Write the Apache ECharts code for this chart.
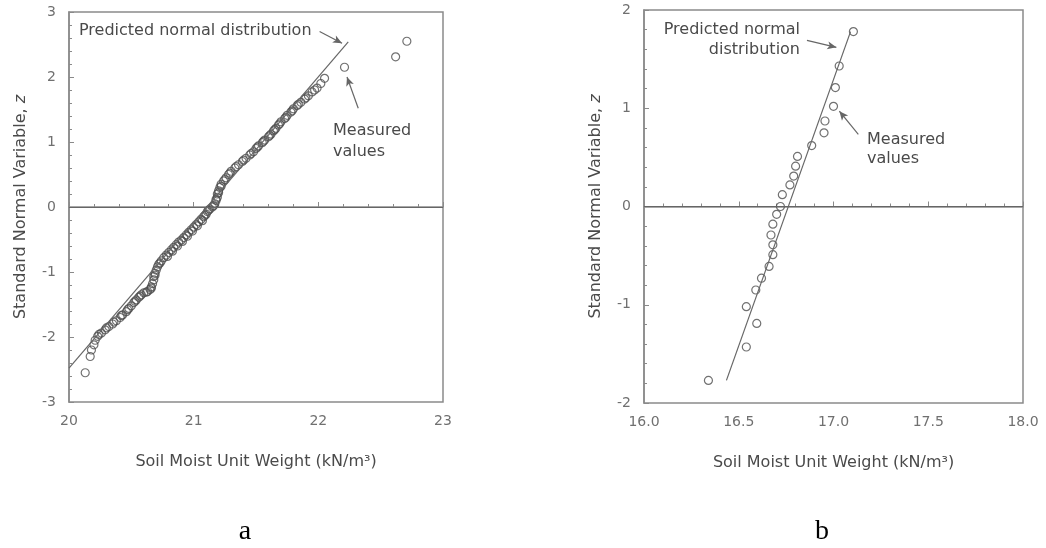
<!DOCTYPE html>
<html><head><meta charset="utf-8">
<script src="https://cdn.jsdelivr.net/npm/echarts@6/dist/echarts.min.js"></script>
<style>html,body{margin:0;padding:0;background:#fff}#c{width:1046px;height:548px}</style>
</head><body><div id="c"></div>
<script>
// ---- Panel a: measured values (soil moist unit weight, standard normal variable z)
const weightA = [20.13,20.17,20.18,20.20,20.21,20.23,20.26,20.29,20.32,20.35,
  20.38,20.41,20.43,20.46,20.48,20.50,20.52,20.54,20.56,20.58,
  20.60,20.63,20.65,20.66,20.67,20.68,20.68,20.69,20.70,20.71,
  20.72,20.74,20.76,20.78,20.80,20.82,20.84,20.86,20.88,20.90,
  20.92,20.94,20.96,20.98,21.00,21.02,21.04,21.06,21.08,21.10,
  21.11,21.13,21.15,21.17,21.18,21.19,21.19,21.20,21.21,21.22,
  21.24,21.26,21.28,21.30,21.33,21.36,21.39,21.42,21.45,21.48,
  21.50,21.52,21.55,21.57,21.60,21.62,21.64,21.66,21.68,21.70,
  21.73,21.75,21.78,21.80,21.83,21.86,21.89,21.92,21.95,21.99,
  22.02,22.05,22.21,22.62,22.71,
  20.24,20.30,20.36,20.42,20.47,20.53,20.57,20.62,20.66,20.69,
  20.73,20.79,20.83,20.87,20.91,20.95,20.99,21.03,21.07,21.09,
  21.12,21.16,21.18,21.20,21.22,21.25,21.29,21.34,21.40,21.46,
  21.51,21.56,21.61,21.65,21.69,21.74,21.79,21.84,21.90,21.97];
const zA = [-2.55,-2.30,-2.20,-2.12,-2.05,-1.99,-1.94,-1.89,-1.84,-1.80,
  -1.75,-1.70,-1.66,-1.61,-1.56,-1.52,-1.47,-1.43,-1.39,-1.35,
  -1.32,-1.30,-1.27,-1.23,-1.18,-1.12,-1.07,-1.02,-0.97,-0.92,
  -0.88,-0.83,-0.78,-0.74,-0.70,-0.66,-0.62,-0.58,-0.54,-0.51,
  -0.47,-0.43,-0.39,-0.35,-0.31,-0.27,-0.23,-0.19,-0.15,-0.11,
  -0.07,-0.03,0.00,0.05,0.10,0.15,0.20,0.25,0.30,0.35,
  0.40,0.45,0.50,0.55,0.60,0.65,0.70,0.75,0.80,0.85,
  0.90,0.94,0.99,1.03,1.08,1.12,1.17,1.21,1.26,1.31,
  1.36,1.41,1.46,1.51,1.56,1.61,1.66,1.71,1.77,1.83,
  1.90,1.98,2.15,2.31,2.55,
  -1.96,-1.86,-1.77,-1.67,-1.58,-1.45,-1.37,-1.31,-1.25,-1.05,
  -0.86,-0.76,-0.68,-0.60,-0.53,-0.45,-0.37,-0.29,-0.21,-0.13,
  -0.05,0.02,0.12,0.22,0.32,0.42,0.52,0.62,0.72,0.82,
  0.92,1.01,1.10,1.19,1.28,1.38,1.48,1.58,1.68,1.80];
// predicted normal distribution line (panel a)
const predA_w = [20.00, 22.24];
const predA_z = [-2.48, 2.54];

// ---- Panel b
const weightB = [16.34,16.54,16.595,16.54,16.59,16.62,16.66,16.68,16.68,16.67,
  16.68,16.70,16.72,16.73,16.77,16.79,16.80,16.81,16.885,16.95,
  16.955,17.00,17.01,17.03,17.105];
const zB = [-1.77,-1.43,-1.19,-1.02,-0.85,-0.73,-0.61,-0.49,-0.39,-0.29,
  -0.18,-0.08,0.00,0.12,0.22,0.31,0.41,0.51,0.62,0.75,
  0.87,1.02,1.21,1.43,1.78];
const predB_w = [16.435, 17.09];
const predB_z = [-1.77, 1.78];

// axis ranges / ticks
const xTicksA = [20, 21, 22, 23];
const yTicksA = [-3, -2, -1, 0, 1, 2, 3];
const xTicksB = ['16.0', '16.5', '17.0', '17.5', '18.0'];
const yTicksB = [-2, -1, 0, 1, 2];

// annotation arrows (data coordinates: start -> arrow tip)
const arrowsA = [[[22.01, 2.70], [22.19, 2.52]], [[22.32, 1.52], [22.23, 2.00]]];
const arrowsB = [[[16.86, 1.69], [17.015, 1.62]], [[17.131, 0.735], [17.031, 0.97]]];

const zip = (a, b) => a.map((v, i) => [v, b[i]]);
const FONT = 'DejaVu Sans';
const AX = '#8a8a8a';
const TXT = '#4a4a4a';

function xAxisCfg(grid, min, max, interval, fmt) {
  return {
    type: 'value', gridIndex: grid, min, max, interval,
    name: 'Soil Moist Unit Weight (kN/m\u00B3)', nameLocation: 'middle', nameGap: 52,
    nameTextStyle: {fontFamily: FONT, fontSize: 16, color: TXT},
    axisLine: {show: true, lineStyle: {color: AX, width: 1.5}},
    axisTick: {show: true, inside: true, length: 5, lineStyle: {color: AX}},
    minorTick: {show: true, splitNumber: 5, length: 3, lineStyle: {color: AX}},
    splitLine: {show: false},
    axisLabel: {fontFamily: FONT, fontSize: 14, color: '#707070', margin: 12, formatter: fmt}
  };
}
function yAxisCfg(grid, min, max) {
  return {
    type: 'value', gridIndex: grid, min, max, interval: 1,
    name: 'Standard Normal Variable, {i|z}', nameLocation: 'middle', nameGap: 40,
    nameTextStyle: {fontFamily: FONT, fontSize: 16, color: TXT,
      rich: {i: {fontFamily: FONT, fontSize: 16, fontStyle: 'italic', color: TXT}}},
    axisLine: {show: true, lineStyle: {color: AX, width: 1.5}},
    axisTick: {show: true, inside: true, length: 5, lineStyle: {color: AX}},
    minorTick: {show: true, splitNumber: 5, length: 3, lineStyle: {color: AX}},
    splitLine: {show: false},
    axisLabel: {fontFamily: FONT, fontSize: 14, color: '#707070', margin: 13}
  };
}
const circleStyle = {color: 'rgba(255,255,255,0)', borderColor: '#4d4d4d', borderWidth: 1.2};
function arrowLines(arr) {
  return arr.map(a => [{coord: a[0], symbol: 'none'}, {coord: a[1], symbol: 'arrow', symbolSize: [6, 9]}]);
}
function txt(x, y, text, align) {
  return {type: 'text', x, y, style: {text, fill: TXT, font: '16px "' + FONT + '"', align: align || 'left', verticalAlign: 'middle'}};
}

const chart = echarts.init(document.getElementById('c'), null, {renderer: 'canvas'});
chart.setOption({
  animation: false,
  backgroundColor: '#fff',
  grid: [
    {left: 69, top: 12, width: 374, height: 390, show: true, borderColor: AX, borderWidth: 1.5, backgroundColor: 'transparent'},
    {left: 644, top: 10, width: 379, height: 393, show: true, borderColor: AX, borderWidth: 1.5, backgroundColor: 'transparent'}
  ],
  xAxis: [
    xAxisCfg(0, xTicksA[0], xTicksA[xTicksA.length - 1], 1, v => String(v)),
    xAxisCfg(1, +xTicksB[0], +xTicksB[xTicksB.length - 1], 0.5, v => v.toFixed(1))
  ],
  yAxis: [
    yAxisCfg(0, yTicksA[0], yTicksA[yTicksA.length - 1]),
    yAxisCfg(1, yTicksB[0], yTicksB[yTicksB.length - 1])
  ],
  series: [
    {type: 'line', xAxisIndex: 0, yAxisIndex: 0, data: zip(predA_w, predA_z), symbol: 'none',
      lineStyle: {color: '#666', width: 1.2}, silent: true,
      markLine: {silent: true, symbol: 'none', label: {show: false}, lineStyle: {color: '#666', width: 1.2, type: 'solid'},
        data: [[{coord: [20, 0]}, {coord: [23, 0]}]].concat(arrowLines(arrowsA))}},
    {type: 'scatter', xAxisIndex: 0, yAxisIndex: 0, data: zip(weightA, zA), symbol: 'circle', symbolSize: 8, itemStyle: circleStyle},
    {type: 'line', xAxisIndex: 1, yAxisIndex: 1, data: zip(predB_w, predB_z), symbol: 'none',
      lineStyle: {color: '#666', width: 1.2}, silent: true,
      markLine: {silent: true, symbol: 'none', label: {show: false}, lineStyle: {color: '#666', width: 1.2, type: 'solid'},
        data: [[{coord: [16, 0]}, {coord: [18, 0]}]].concat(arrowLines(arrowsB))}},
    {type: 'scatter', xAxisIndex: 1, yAxisIndex: 1, data: zip(weightB, zB), symbol: 'circle', symbolSize: 8, itemStyle: circleStyle}
  ],
  graphic: [
    txt(79, 31, 'Predicted normal distribution'),
    txt(333, 131, 'Measured'),
    txt(333, 152, 'values'),
    txt(800, 30, 'Predicted normal', 'right'),
    txt(800, 50, 'distribution', 'right'),
    txt(867, 140, 'Measured'),
    txt(867, 159, 'values'),
    {type: 'text', x: 245, y: 546, style: {text: 'a', fill: '#000', font: '28px "Liberation Serif"', align: 'center', verticalAlign: 'bottom'}},
    {type: 'text', x: 822, y: 546, style: {text: 'b', fill: '#000', font: '28px "Liberation Serif"', align: 'center', verticalAlign: 'bottom'}}
  ]
});
</script></body></html>
